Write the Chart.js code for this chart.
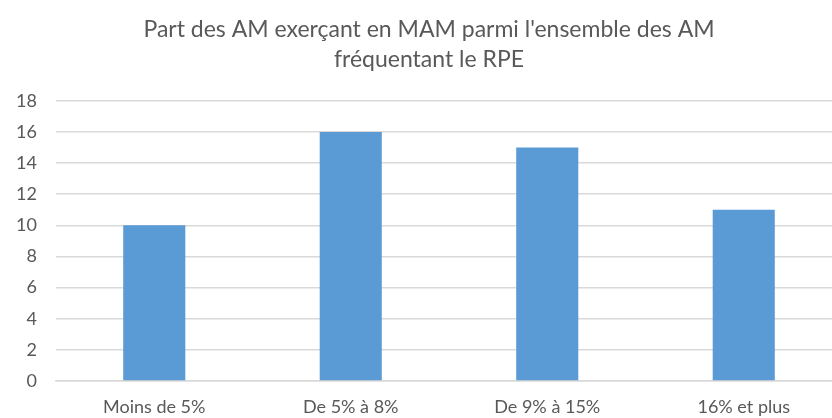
<!DOCTYPE html>
<html>
<head>
<meta charset="utf-8">
<script src="https://cdn.jsdelivr.net/npm/chart.js@4/dist/chart.umd.min.js"></script>
<style>
  html, body { margin: 0; padding: 0; background: #fff; overflow: hidden; }
  #wrap { width: 862px; height: 418px; }
</style>
</head>
<body>
<div id="wrap"><canvas id="myChart" width="862" height="418"></canvas></div>
<script>
'use strict';
// données
var categories = ['Moins de 5%', 'De 5% à 8%', 'De 9% à 15%', '16% et plus'];
var values = [10, 16, 15, 11];
var titleLines = ["Part des AM exerçant en MAM parmi l'ensemble des AM", 'fréquentant le RPE'];

var textColor = '#595959';
var fontFamily = "Lato, 'Open Sans', sans-serif";

var ctx = document.getElementById('myChart').getContext('2d');
var myChart = new Chart(ctx, {
  type: 'bar',
  data: {
    labels: categories,
    datasets: [{
      data: values,
      backgroundColor: '#5b9bd5',
      borderWidth: 0,
      barPercentage: 0.316,
      categoryPercentage: 1
    }]
  },
  options: {
    responsive: false,
    animation: false,
    layout: { padding: { left: 16, right: 20, top: 0, bottom: 0 } },
    plugins: {
      legend: { display: false },
      tooltip: { enabled: false },
      title: {
        display: true,
        text: titleLines,
        color: textColor,
        font: { family: fontFamily, size: 23, weight: 'normal', lineHeight: 1.3 },
        padding: { top: 15, bottom: 26 }
      }
    },
    scales: {
      x: {
        grid: { display: false, drawTicks: false },
        border: { color: '#d9d9d9', width: 1.5 },
        ticks: { color: textColor, font: { family: fontFamily, size: 18 }, padding: 15, maxRotation: 0 },
        afterFit: function(scale) { scale.height = 37; }
      },
      y: {
        min: 0,
        max: 18,
        ticks: { stepSize: 2, color: textColor, font: { family: fontFamily, size: 18 }, padding: 19 },
        grid: { color: '#d9d9d9', lineWidth: 1.5, drawTicks: false },
        border: { display: false },
        afterFit: function(scale) { scale.width = 40; }
      }
    }
  }
});
</script>
</body>
</html>
